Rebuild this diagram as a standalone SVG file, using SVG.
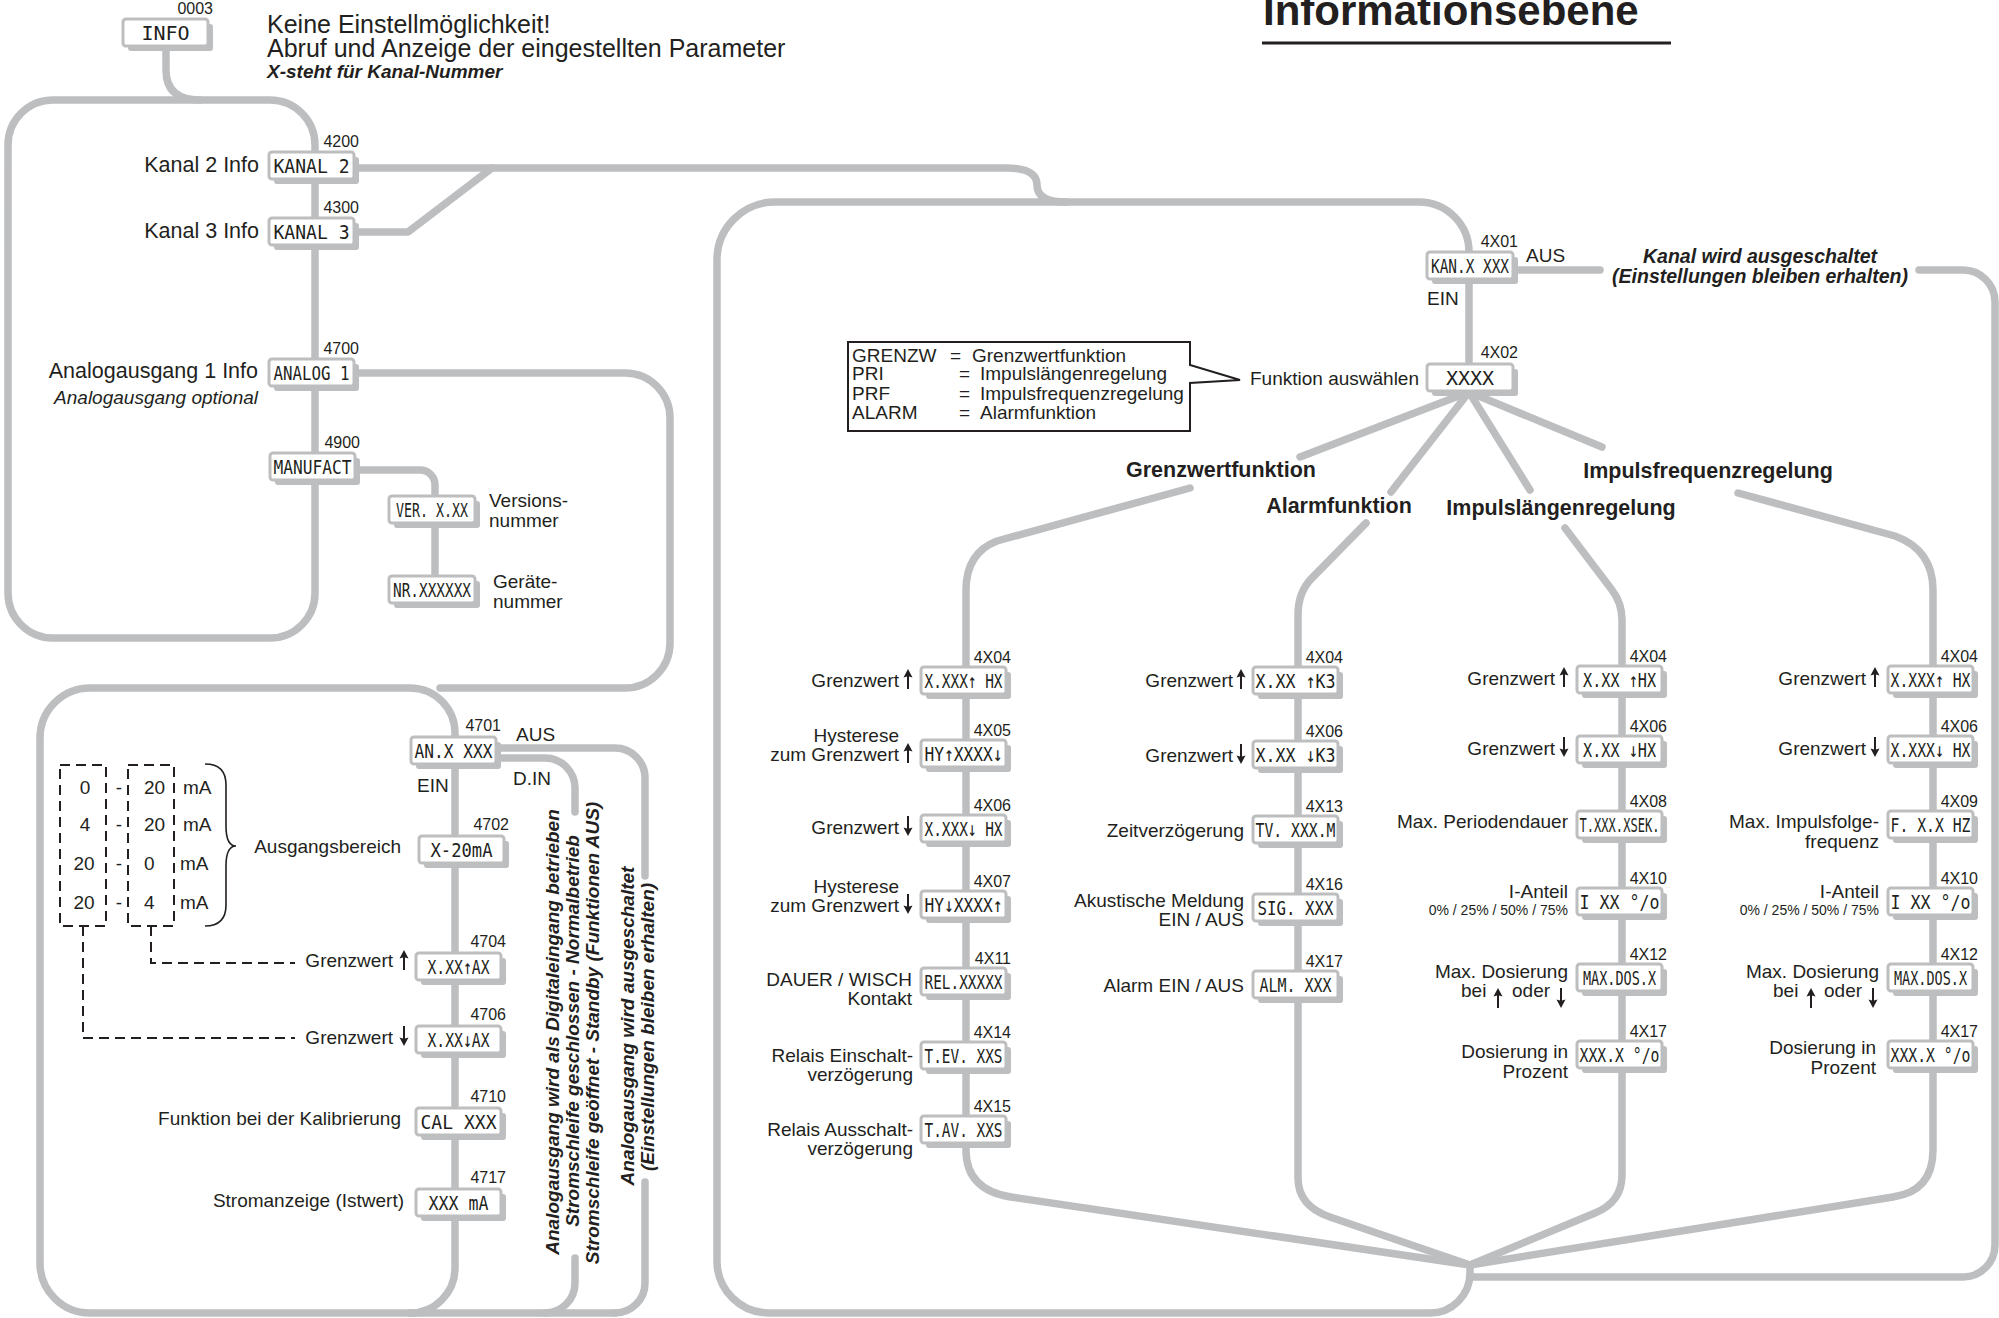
<svg xmlns="http://www.w3.org/2000/svg" width="1999" height="1318" viewBox="0 0 1999 1318">
<style>
text{font-family:"Liberation Sans",Arial,sans-serif;fill:#231F20;font-size:19px}
.ln{fill:none;stroke:#BDBEC0;stroke-width:7.5;stroke-linecap:round;stroke-linejoin:round}
.sh{fill:#BDBEC0}
.bx{fill:#fff;stroke:#BDBEC0;stroke-width:3}
text.lcd{font-family:"DejaVu Sans Mono",monospace;font-size:20px;text-anchor:middle}
text.code{font-size:16px;text-anchor:end}
.e{text-anchor:end}
.m{text-anchor:middle}
text.big{font-size:21.5px}
.bi{font-weight:bold;font-style:italic}
text.b{font-weight:bold;font-size:21.5px}
text.sm{font-size:14px}
text.hd{font-size:25px}
text.ttl{font-size:42px;font-weight:bold}
text.kw{font-size:19.5px}
.dash{fill:none;stroke:#231F20;stroke-width:2;stroke-dasharray:10 6}
</style>
<defs>
<path id="aup" d="M0,-10 L4.5,-1.5 L1,-2.5 L1,10 L-1,10 L-1,-2.5 L-4.5,-1.5 Z" fill="#231F20"/>
<path id="adn" d="M0,10 L4.5,1.5 L1,2.5 L1,-10 L-1,-10 L-1,2.5 L-4.5,1.5 Z" fill="#231F20"/>
</defs>
<rect width="1999" height="1318" fill="#fff"/>

<!-- header -->
<g id="header">
<text class="hd" x="267" y="33">Keine Einstellmöglichkeit!</text>
<text class="hd" x="267" y="57">Abruf und Anzeige der eingestellten Parameter</text>
<text x="267" y="78" class="bi">X-steht für Kanal-Nummer</text>
<text class="ttl" x="1263" y="25">Informationsebene</text>
<line x1="1262" y1="43" x2="1671" y2="43" stroke="#231F20" stroke-width="3"/>
</g>

<!-- connectors -->
<g id="connectors">
<path class="ln" d="M166,50 V70 Q166,100 200,100"/>
<rect class="ln" x="8" y="100" width="307" height="538" rx="45"/>
<path class="ln" d="M353,168 H1006 Q1037,168 1037,185 Q1037,202 1066,202"/>
<path class="ln" d="M353,232 H408 L492,168"/>
<path class="ln" d="M354,470 H420 A15,15 0 0 1 435,485 V590"/>
<path class="ln" d="M353,373 H625 A45,45 0 0 1 670,418 V643 A45,45 0 0 1 625,688 H440"/>
<path class="ln" d="M455,750 V733 A45,45 0 0 0 410,688 H90 A50,50 0 0 0 40,738 V1263 A50,50 0 0 0 90,1313 H615"/>
<path class="ln" d="M455,750 V1268 A45,45 0 0 1 410,1313"/>
<path class="ln" d="M495,748 H615 A30,30 0 0 1 645,778 V876"/>
<path class="ln" d="M645,1182 V1283 A30,30 0 0 1 615,1313"/>
<path class="ln" d="M495,758 H545 A30,30 0 0 1 575,788 V812"/>
<path class="ln" d="M575,1258 V1283 A30,30 0 0 1 545,1313"/>
<path class="ln" d="M1066,202 H775 A58,58 0 0 0 717,260 V1261 A52,52 0 0 0 769,1313 H1430 A40,40 0 0 0 1470,1273 V1265"/>
<path class="ln" d="M1066,202 H1419 A50,50 0 0 1 1469,252 V370"/>
<path class="ln" d="M1510,270 H1600"/>
<path class="ln" d="M1919,270 H1963 A32,32 0 0 1 1995,302 V1245 A32,32 0 0 1 1963,1277 H1470"/>
<path class="ln" d="M1469,392 L1300,457"/>
<path class="ln" d="M1469,392 L1391,492"/>
<path class="ln" d="M1469,392 L1530,490"/>
<path class="ln" d="M1469,392 L1602,447"/>
<path class="ln" d="M1190,488 L997,541 Q966,553 966,590 V1150 Q966,1190 1011,1197 L1470,1265"/>
<path class="ln" d="M1366,523 L1312,578 Q1298,592 1298,615 V1178 Q1298,1206 1330,1217 L1470,1265"/>
<path class="ln" d="M1565,528 L1612,590 Q1622,603 1622,620 V1175 Q1622,1202 1595,1213 L1470,1265"/>
<path class="ln" d="M1738,493 L1895,536 Q1933,550 1933,590 V1150 Q1933,1191 1893,1197 L1470,1265"/>
</g>

<!-- legend -->
<g id="legend">
<path d="M848,342 H1190 V365 L1240,380 L1190,383 V431 H848 Z" fill="#fff" stroke="#231F20" stroke-width="2"/>
<text x="852" y="362">GRENZW</text><text x="950" y="362">=</text><text x="972" y="362">Grenzwertfunktion</text>
<text x="852" y="380">PRI</text><text x="959" y="380">=</text><text x="980" y="380">Impulslängenregelung</text>
<text x="852" y="400">PRF</text><text x="959" y="400">=</text><text x="980" y="400">Impulsfrequenzregelung</text>
<text x="852" y="419">ALARM</text><text x="959" y="419">=</text><text x="980" y="419">Alarmfunktion</text>
</g>

<!-- branch titles -->
<g id="titles">
<text x="1221" y="477" class="b m">Grenzwertfunktion</text>
<text x="1339" y="513" class="b m">Alarmfunktion</text>
<text x="1561" y="515" class="b m">Impulslängenregelung</text>
<text x="1708" y="478" class="b m">Impulsfrequenzregelung</text>
<text x="1760" y="263" class="bi m kw">Kanal wird ausgeschaltet</text>
<text x="1760" y="283" class="bi m kw">(Einstellungen bleiben erhalten)</text>
</g>

<!-- left nodes -->
<g id="n0003"><rect class="sh" x="128" y="24" width="85" height="27" rx="3"/><rect class="bx" x="123" y="19" width="85" height="27" rx="3"/><text class="code" x="213" y="14">0003</text><text class="lcd" x="165.5" y="40">INFO</text></g>
<g id="n4200"><rect class="sh" x="274" y="157" width="85" height="27" rx="3"/><rect class="bx" x="269" y="152" width="85" height="27" rx="3"/><text class="code" x="359" y="147">4200</text><text class="lcd" x="311.5" y="173" textLength="76" lengthAdjust="spacingAndGlyphs">KANAL  2</text><text class="big e" x="259" y="172">Kanal 2 Info</text></g>
<g id="n4300"><rect class="sh" x="274" y="223" width="85" height="27" rx="3"/><rect class="bx" x="269" y="218" width="85" height="27" rx="3"/><text class="code" x="359" y="213">4300</text><text class="lcd" x="311.5" y="239" textLength="76" lengthAdjust="spacingAndGlyphs">KANAL  3</text><text class="big e" x="259" y="238">Kanal 3 Info</text></g>
<g id="n4700"><rect class="sh" x="274" y="364" width="85" height="27" rx="3"/><rect class="bx" x="269" y="359" width="85" height="27" rx="3"/><text class="code" x="359" y="354">4700</text><text class="lcd" x="311.5" y="380" textLength="76" lengthAdjust="spacingAndGlyphs">ANALOG 1</text><text class="big e" x="258" y="378">Analogausgang 1 Info</text><text class="e" x="258" y="404" font-style="italic">Analogausgang optional</text></g>
<g id="n4900"><rect class="sh" x="275" y="458" width="85" height="27" rx="3"/><rect class="bx" x="270" y="453" width="85" height="27" rx="3"/><text class="code" x="360" y="448">4900</text><text class="lcd" x="312.5" y="474" textLength="78" lengthAdjust="spacingAndGlyphs">MANUFACT</text></g>
<g id="nver"><rect class="sh" x="394" y="501" width="86" height="27" rx="3"/><rect class="bx" x="389" y="496" width="86" height="27" rx="3"/><text class="lcd" x="432" y="517" textLength="72" lengthAdjust="spacingAndGlyphs">VER. X.XX</text><text x="489" y="507">Versions-</text><text x="489" y="527">nummer</text></g>
<g id="nnr"><rect class="sh" x="394" y="581" width="86" height="27" rx="3"/><rect class="bx" x="389" y="576" width="86" height="27" rx="3"/><text class="lcd" x="432" y="597" textLength="78" lengthAdjust="spacingAndGlyphs">NR.XXXXXX</text><text x="493" y="588">Geräte-</text><text x="493" y="608">nummer</text></g>

<!-- analog output column -->
<g id="n4701"><rect class="sh" x="416" y="742" width="85" height="27" rx="3"/><rect class="bx" x="411" y="737" width="85" height="27" rx="3"/><text class="code" x="501" y="731">4701</text><text class="lcd" x="453.5" y="758" textLength="78" lengthAdjust="spacingAndGlyphs">AN.X  XXX</text><text x="516" y="741">AUS</text><text x="417" y="792">EIN</text><text x="513" y="785">D.IN</text></g>
<g id="n4702"><rect class="sh" x="424" y="841" width="85" height="27" rx="3"/><rect class="bx" x="419" y="836" width="85" height="27" rx="3"/><text class="code" x="509" y="830">4702</text><text class="lcd" x="461.5" y="857" textLength="62" lengthAdjust="spacingAndGlyphs">X-20mA</text><text class="e" x="401" y="853">Ausgangsbereich</text></g>
<g id="n4704"><rect class="sh" x="421" y="958" width="85" height="27" rx="3"/><rect class="bx" x="416" y="953" width="85" height="27" rx="3"/><text class="code" x="506" y="947">4704</text><text class="lcd" x="458.5" y="974" textLength="62" lengthAdjust="spacingAndGlyphs">X.XX↑AX</text><text class="e" x="393" y="967">Grenzwert</text><use href="#aup" x="404" y="960"/></g>
<g id="n4706"><rect class="sh" x="421" y="1031" width="85" height="27" rx="3"/><rect class="bx" x="416" y="1026" width="85" height="27" rx="3"/><text class="code" x="506" y="1020">4706</text><text class="lcd" x="458.5" y="1047" textLength="62" lengthAdjust="spacingAndGlyphs">X.XX↓AX</text><text class="e" x="393" y="1044">Grenzwert</text><use href="#adn" x="404" y="1036"/></g>
<g id="n4710"><rect class="sh" x="421" y="1113" width="85" height="27" rx="3"/><rect class="bx" x="416" y="1108" width="85" height="27" rx="3"/><text class="code" x="506" y="1102">4710</text><text class="lcd" x="458.5" y="1129" textLength="76" lengthAdjust="spacingAndGlyphs">CAL  XXX</text><text class="e" x="401" y="1125">Funktion bei der Kalibrierung</text></g>
<g id="n4717"><rect class="sh" x="421" y="1194" width="85" height="27" rx="3"/><rect class="bx" x="416" y="1189" width="85" height="27" rx="3"/><text class="code" x="506" y="1183">4717</text><text class="lcd" x="458.5" y="1210" textLength="60" lengthAdjust="spacingAndGlyphs">XXX mA</text><text class="e" x="404" y="1207">Stromanzeige (Istwert)</text></g>

<!-- range diagram -->
<g id="range">
<rect class="dash" x="60" y="765" width="46" height="161"/>
<rect class="dash" x="128" y="765" width="46" height="161"/>
<path class="dash" d="M151,926 V963 H295"/>
<path class="dash" d="M83,926 V1038 H295"/>
<path d="M205,764 Q226,764 226,785 V826 Q226,846 236,846 Q226,846 226,866 V905 Q226,926 205,926" fill="none" stroke="#231F20" stroke-width="1.6"/>
<text class="m" x="85" y="794">0</text><text class="m" x="85" y="831">4</text><text class="m" x="84" y="870">20</text><text class="m" x="84" y="909">20</text>
<text class="m" x="119" y="794">-</text><text class="m" x="119" y="831">-</text><text class="m" x="119" y="870">-</text><text class="m" x="119" y="909">-</text>
<text x="144" y="794">20</text><text x="144" y="831">20</text><text x="144" y="870">0</text><text x="144" y="909">4</text>
<text x="183" y="794">mA</text><text x="183" y="831">mA</text><text x="180" y="870">mA</text><text x="180" y="909">mA</text>
</g>

<!-- rotated notes -->
<g id="notes">
<text class="bi m" transform="translate(559,1032) rotate(-90)">Analogausgang wird als Digitaleingang betrieben</text>
<text class="bi m" transform="translate(579,1031) rotate(-90)">Stromschleife geschlossen - Normalbetrieb</text>
<text class="bi m" transform="translate(599,1033) rotate(-90)">Stromschleife geöffnet - Standby (Funktionen AUS)</text>
<text class="bi m" transform="translate(634,1026) rotate(-90)">Analogausgang wird ausgeschaltet</text>
<text class="bi m" transform="translate(654,1027) rotate(-90)">(Einstellungen bleiben erhalten)</text>
</g>

<!-- channel nodes -->
<g id="n4X01"><rect class="sh" x="1432" y="257" width="86" height="27" rx="3"/><rect class="bx" x="1427" y="252" width="86" height="27" rx="3"/><text class="code" x="1518" y="247">4X01</text><text class="lcd" x="1470" y="273" textLength="78" lengthAdjust="spacingAndGlyphs">KAN.X XXX</text><text x="1526" y="262">AUS</text><text x="1427" y="305">EIN</text></g>
<g id="n4X02"><rect class="sh" x="1432" y="369" width="86" height="27" rx="3"/><rect class="bx" x="1427" y="364" width="86" height="27" rx="3"/><text class="code" x="1518" y="358">4X02</text><text class="lcd" x="1470" y="385">XXXX</text><text class="e" x="1419" y="385">Funktion auswählen</text></g>

<!-- column 1 -->
<g id="c1_4X04"><rect class="sh" x="926" y="672" width="85" height="27" rx="3"/><rect class="bx" x="921" y="667" width="85" height="27" rx="3"/><text class="code" x="1011" y="663">4X04</text><text class="lcd" x="963.5" y="688" textLength="78" lengthAdjust="spacingAndGlyphs">X.XXX↑ HX</text><text class="e" x="899" y="687">Grenzwert</text><use href="#aup" x="908" y="679"/></g>
<g id="c1_4X05"><rect class="sh" x="926" y="745" width="85" height="27" rx="3"/><rect class="bx" x="921" y="740" width="85" height="27" rx="3"/><text class="code" x="1011" y="736">4X05</text><text class="lcd" x="963.5" y="761" textLength="78" lengthAdjust="spacingAndGlyphs">HY↑XXXX↓</text><text class="e" x="899" y="742">Hysterese</text><text class="e" x="899" y="761">zum Grenzwert</text><use href="#aup" x="908" y="753"/></g>
<g id="c1_4X06"><rect class="sh" x="926" y="820" width="85" height="27" rx="3"/><rect class="bx" x="921" y="815" width="85" height="27" rx="3"/><text class="code" x="1011" y="811">4X06</text><text class="lcd" x="963.5" y="836" textLength="78" lengthAdjust="spacingAndGlyphs">X.XXX↓ HX</text><text class="e" x="899" y="834">Grenzwert</text><use href="#adn" x="908" y="826"/></g>
<g id="c1_4X07"><rect class="sh" x="926" y="896" width="85" height="27" rx="3"/><rect class="bx" x="921" y="891" width="85" height="27" rx="3"/><text class="code" x="1011" y="887">4X07</text><text class="lcd" x="963.5" y="912" textLength="78" lengthAdjust="spacingAndGlyphs">HY↓XXXX↑</text><text class="e" x="899" y="893">Hysterese</text><text class="e" x="899" y="912">zum Grenzwert</text><use href="#adn" x="908" y="904"/></g>
<g id="c1_4X11"><rect class="sh" x="926" y="973" width="85" height="27" rx="3"/><rect class="bx" x="921" y="968" width="85" height="27" rx="3"/><text class="code" x="1011" y="964">4X11</text><text class="lcd" x="963.5" y="989" textLength="78" lengthAdjust="spacingAndGlyphs">REL.XXXXX</text><text class="e" x="912" y="986">DAUER / WISCH</text><text class="e" x="912" y="1005">Kontakt</text></g>
<g id="c1_4X14"><rect class="sh" x="926" y="1047" width="85" height="27" rx="3"/><rect class="bx" x="921" y="1042" width="85" height="27" rx="3"/><text class="code" x="1011" y="1038">4X14</text><text class="lcd" x="963.5" y="1063" textLength="78" lengthAdjust="spacingAndGlyphs">T.EV.  XXS</text><text class="e" x="913" y="1062">Relais Einschalt-</text><text class="e" x="913" y="1081">verzögerung</text></g>
<g id="c1_4X15"><rect class="sh" x="926" y="1121" width="85" height="27" rx="3"/><rect class="bx" x="921" y="1116" width="85" height="27" rx="3"/><text class="code" x="1011" y="1112">4X15</text><text class="lcd" x="963.5" y="1137" textLength="78" lengthAdjust="spacingAndGlyphs">T.AV.  XXS</text><text class="e" x="913" y="1136">Relais Ausschalt-</text><text class="e" x="913" y="1155">verzögerung</text></g>

<!-- column 2 -->
<g id="c2_4X04"><rect class="sh" x="1258" y="672" width="85" height="27" rx="3"/><rect class="bx" x="1253" y="667" width="85" height="27" rx="3"/><text class="code" x="1343" y="663">4X04</text><text class="lcd" x="1295.5" y="688" textLength="80" lengthAdjust="spacingAndGlyphs">X.XX ↑K3</text><text class="e" x="1233" y="687">Grenzwert</text><use href="#aup" x="1241" y="679"/></g>
<g id="c2_4X06"><rect class="sh" x="1258" y="746" width="85" height="27" rx="3"/><rect class="bx" x="1253" y="741" width="85" height="27" rx="3"/><text class="code" x="1343" y="737">4X06</text><text class="lcd" x="1295.5" y="762" textLength="80" lengthAdjust="spacingAndGlyphs">X.XX ↓K3</text><text class="e" x="1233" y="762">Grenzwert</text><use href="#adn" x="1241" y="754"/></g>
<g id="c2_4X13"><rect class="sh" x="1258" y="821" width="85" height="27" rx="3"/><rect class="bx" x="1253" y="816" width="85" height="27" rx="3"/><text class="code" x="1343" y="812">4X13</text><text class="lcd" x="1295.5" y="837" textLength="80" lengthAdjust="spacingAndGlyphs">TV. XXX.M</text><text class="e" x="1244" y="837">Zeitverzögerung</text></g>
<g id="c2_4X16"><rect class="sh" x="1258" y="899" width="85" height="27" rx="3"/><rect class="bx" x="1253" y="894" width="85" height="27" rx="3"/><text class="code" x="1343" y="890">4X16</text><text class="lcd" x="1295.5" y="915" textLength="76" lengthAdjust="spacingAndGlyphs">SIG. XXX</text><text class="e" x="1244" y="907">Akustische Meldung</text><text class="e" x="1244" y="926">EIN / AUS</text></g>
<g id="c2_4X17"><rect class="sh" x="1258" y="976" width="85" height="27" rx="3"/><rect class="bx" x="1253" y="971" width="85" height="27" rx="3"/><text class="code" x="1343" y="967">4X17</text><text class="lcd" x="1295.5" y="992" textLength="72" lengthAdjust="spacingAndGlyphs">ALM. XXX</text><text class="e" x="1244" y="992">Alarm EIN / AUS</text></g>

<!-- column 3 -->
<g id="c3_4X04"><rect class="sh" x="1582" y="671" width="85" height="27" rx="3"/><rect class="bx" x="1577" y="666" width="85" height="27" rx="3"/><text class="code" x="1667" y="662">4X04</text><text class="lcd" x="1619.5" y="687" textLength="73" lengthAdjust="spacingAndGlyphs">X.XX ↑HX</text><text class="e" x="1555" y="685">Grenzwert</text><use href="#aup" x="1564" y="677"/></g>
<g id="c3_4X06"><rect class="sh" x="1582" y="741" width="85" height="27" rx="3"/><rect class="bx" x="1577" y="736" width="85" height="27" rx="3"/><text class="code" x="1667" y="732">4X06</text><text class="lcd" x="1619.5" y="757" textLength="73" lengthAdjust="spacingAndGlyphs">X.XX ↓HX</text><text class="e" x="1555" y="755">Grenzwert</text><use href="#adn" x="1564" y="747"/></g>
<g id="c3_4X08"><rect class="sh" x="1582" y="816" width="85" height="27" rx="3"/><rect class="bx" x="1577" y="811" width="85" height="27" rx="3"/><text class="code" x="1667" y="807">4X08</text><text class="lcd" x="1619.5" y="832" textLength="80" lengthAdjust="spacingAndGlyphs">T.XXX.XSEK.</text><text class="e" x="1568" y="828">Max. Periodendauer</text></g>
<g id="c3_4X10"><rect class="sh" x="1582" y="893" width="85" height="27" rx="3"/><rect class="bx" x="1577" y="888" width="85" height="27" rx="3"/><text class="code" x="1667" y="884">4X10</text><text class="lcd" x="1619.5" y="909" textLength="80" lengthAdjust="spacingAndGlyphs">I XX °/o</text><text class="e" x="1568" y="898">I-Anteil</text><text class="e sm" x="1568" y="915">0% / 25% / 50% / 75%</text></g>
<g id="c3_4X12"><rect class="sh" x="1582" y="969" width="85" height="27" rx="3"/><rect class="bx" x="1577" y="964" width="85" height="27" rx="3"/><text class="code" x="1667" y="960">4X12</text><text class="lcd" x="1619.5" y="985" textLength="73" lengthAdjust="spacingAndGlyphs">MAX.DOS.X</text><text class="e" x="1568" y="978">Max. Dosierung</text><text x="1461" y="997">bei</text><use href="#aup" x="1498" y="998"/><text x="1512" y="997">oder</text><use href="#adn" x="1561" y="998"/></g>
<g id="c3_4X17"><rect class="sh" x="1582" y="1046" width="85" height="27" rx="3"/><rect class="bx" x="1577" y="1041" width="85" height="27" rx="3"/><text class="code" x="1667" y="1037">4X17</text><text class="lcd" x="1619.5" y="1062" textLength="80" lengthAdjust="spacingAndGlyphs">XXX.X °/o</text><text class="e" x="1568" y="1058">Dosierung in</text><text class="e" x="1568" y="1078">Prozent</text></g>

<!-- column 4 -->
<g id="c4_4X04"><rect class="sh" x="1893" y="671" width="85" height="27" rx="3"/><rect class="bx" x="1888" y="666" width="85" height="27" rx="3"/><text class="code" x="1978" y="662">4X04</text><text class="lcd" x="1930.5" y="687" textLength="80" lengthAdjust="spacingAndGlyphs">X.XXX↑ HX</text><text class="e" x="1866" y="685">Grenzwert</text><use href="#aup" x="1875" y="677"/></g>
<g id="c4_4X06"><rect class="sh" x="1893" y="741" width="85" height="27" rx="3"/><rect class="bx" x="1888" y="736" width="85" height="27" rx="3"/><text class="code" x="1978" y="732">4X06</text><text class="lcd" x="1930.5" y="757" textLength="80" lengthAdjust="spacingAndGlyphs">X.XXX↓ HX</text><text class="e" x="1866" y="755">Grenzwert</text><use href="#adn" x="1875" y="747"/></g>
<g id="c4_4X09"><rect class="sh" x="1893" y="816" width="85" height="27" rx="3"/><rect class="bx" x="1888" y="811" width="85" height="27" rx="3"/><text class="code" x="1978" y="807">4X09</text><text class="lcd" x="1930.5" y="832" textLength="80" lengthAdjust="spacingAndGlyphs">F. X.X  HZ</text><text class="e" x="1879" y="828">Max. Impulsfolge-</text><text class="e" x="1879" y="848">frequenz</text></g>
<g id="c4_4X10"><rect class="sh" x="1893" y="893" width="85" height="27" rx="3"/><rect class="bx" x="1888" y="888" width="85" height="27" rx="3"/><text class="code" x="1978" y="884">4X10</text><text class="lcd" x="1930.5" y="909" textLength="80" lengthAdjust="spacingAndGlyphs">I XX °/o</text><text class="e" x="1879" y="898">I-Anteil</text><text class="e sm" x="1879" y="915">0% / 25% / 50% / 75%</text></g>
<g id="c4_4X12"><rect class="sh" x="1893" y="969" width="85" height="27" rx="3"/><rect class="bx" x="1888" y="964" width="85" height="27" rx="3"/><text class="code" x="1978" y="960">4X12</text><text class="lcd" x="1930.5" y="985" textLength="73" lengthAdjust="spacingAndGlyphs">MAX.DOS.X</text><text class="e" x="1879" y="978">Max. Dosierung</text><text x="1773" y="997">bei</text><use href="#aup" x="1811" y="998"/><text x="1824" y="997">oder</text><use href="#adn" x="1873" y="998"/></g>
<g id="c4_4X17"><rect class="sh" x="1893" y="1046" width="85" height="27" rx="3"/><rect class="bx" x="1888" y="1041" width="85" height="27" rx="3"/><text class="code" x="1978" y="1037">4X17</text><text class="lcd" x="1930.5" y="1062" textLength="80" lengthAdjust="spacingAndGlyphs">XXX.X °/o</text><text class="e" x="1876" y="1054">Dosierung in</text><text class="e" x="1876" y="1074">Prozent</text></g>
</svg>
